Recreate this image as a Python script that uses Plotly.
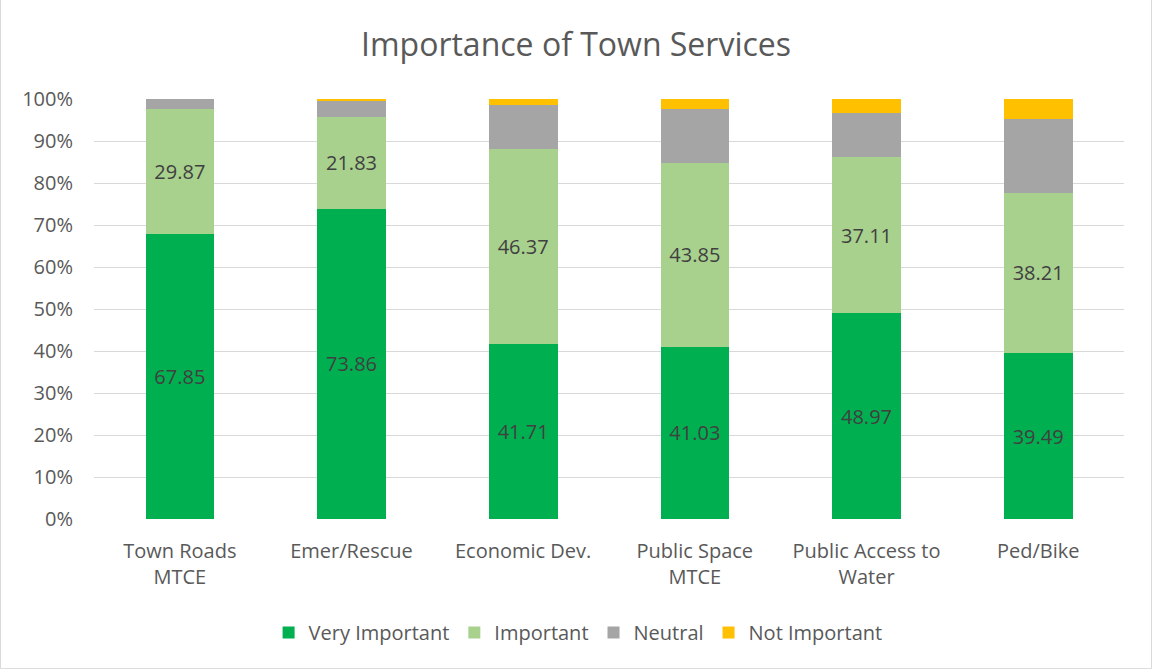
import plotly.graph_objects as go

categories = ["Town Roads<br>MTCE", "Emer/Rescue", "Economic Dev.", "Public Space<br>MTCE", "Public Access to<br>Water", "Ped/Bike"]
very_important = [67.85, 73.86, 41.71, 41.03, 48.97, 39.49]
important = [29.87, 21.83, 46.37, 43.85, 37.11, 38.21]
neutral = [2.28, 4.06, 10.50, 12.76, 10.54, 17.58]
not_important = [0.0, 0.25, 1.42, 2.36, 3.38, 4.72]

font_family = "Open Sans, Liberation Sans, sans-serif"
fig = go.Figure()
series = [
    ("Very Important", very_important, "#00b050", True),
    ("Important", important, "#a9d18e", True),
    ("Neutral", neutral, "#a5a5a5", False),
    ("Not Important", not_important, "#ffc000", False),
]
for name, vals, color, show in series:
    fig.add_trace(go.Bar(
        name=name, x=categories, y=vals,
        marker=dict(color=color, line=dict(width=0)),
        text=[f"{v:.2f}" for v in vals] if show else None,
        textposition="inside" if show else "none",
        insidetextanchor="middle",
        textangle=0,
        textfont=dict(color="#404040", size=20, family=font_family),
        hoverinfo="skip",
    ))

fig.update_layout(
    barmode="stack",
    bargap=0.6,
    width=1152, height=669,
    margin=dict(l=94, r=28, t=99, b=150),
    paper_bgcolor="white", plot_bgcolor="white",
    title=dict(text="Importance of Town Services", x=0.5, xanchor="center",
               y=1 - 45/669, yanchor="middle",
               font=dict(size=32, color="#595959", family=font_family)),
    font=dict(family=font_family, color="#595959", size=20),
    legend=dict(orientation="h", x=0.47, xanchor="center", y=-0.27, yanchor="middle",
                font=dict(size=20, color="#595959"), traceorder="normal",
                itemsizing="constant", itemwidth=30),
    uniformtext=dict(minsize=10, mode="show"),
    shapes=[dict(type="rect", xref="paper", yref="paper",
                 x0=-94/1030 + 0.0005, x1=(1152-94-0.5)/1030,
                 y0=-150/420 + 0.001, y1=(669-99-0.5)/420 ,
                 line=dict(color="#d9d9d9", width=1), layer="below")],
)
fig.update_xaxes(showgrid=False, showline=False, ticks="", ticklabelstandoff=18,
                 tickfont=dict(size=20, color="#595959"))
fig.update_yaxes(range=[0, 100], dtick=10, ticksuffix="%", showgrid=True, gridcolor="#d9d9d9",
                 gridwidth=1, zeroline=False, showline=False, ticks="", ticklabelstandoff=20,
                 tickfont=dict(size=20, color="#595959"))
fig.write_html("out.html")
